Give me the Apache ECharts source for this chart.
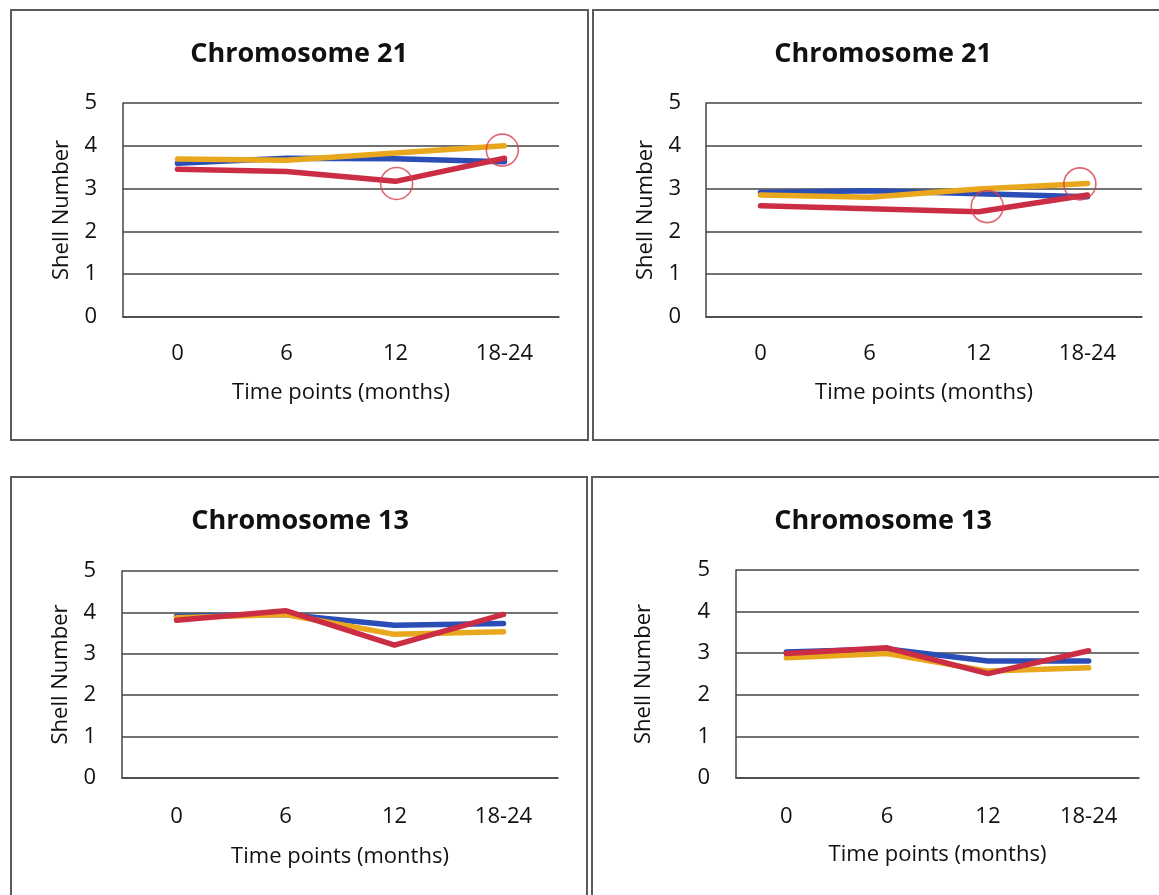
<!DOCTYPE html>
<html>
<head>
<meta charset="utf-8">
<script src="https://cdn.jsdelivr.net/npm/echarts@6/dist/echarts.min.js"></script>
<style>
  html, body { margin: 0; padding: 0; background: #ffffff; }
  #chart { width: 1159px; height: 895px; }
</style>
</head>
<body>
<div id="chart"></div>
<script>
// Time points on the x axis and shell-number ticks on the y axis
const timePoints = ['0', '6', '12', '18-24'];
const shellTicks = [0, 1, 2, 3, 4, 5];

// Chromosome 21, left panel
const chr21aBlue   = [3.59, 3.71, 3.70, 3.63];
const chr21aYellow = [3.69, 3.66, 3.83, 4.00];
const chr21aRed    = [3.45, 3.40, 3.17, 3.71];
// Chromosome 21, right panel
const chr21bBlue   = [2.91, 2.95, 2.88, 2.81];
const chr21bYellow = [2.85, 2.80, 2.99, 3.12];
const chr21bRed    = [2.60, 2.53, 2.46, 2.85];
// Chromosome 13, left panel
const chr13aBlue   = [3.91, 3.95, 3.69, 3.73];
const chr13aYellow = [3.87, 3.95, 3.47, 3.53];
const chr13aRed    = [3.81, 4.04, 3.21, 3.95];
// Chromosome 13, right panel
const chr13bBlue   = [3.03, 3.10, 2.81, 2.81];
const chr13bYellow = [2.89, 2.99, 2.57, 2.65];
const chr13bRed    = [2.99, 3.13, 2.51, 3.06];

// Highlight rings: [position along the time axis (category index), shell number]
const chr21aRings = [[2.01, 3.12], [2.98, 3.90]];
const chr21bRings = [[2.08, 2.58], [2.93, 3.11]];

const panelTitles = ['Chromosome 21', 'Chromosome 21', 'Chromosome 13', 'Chromosome 13'];

const COLORS = { blue: '#2b4db6', yellow: '#e8a71c', red: '#cb2d44', ring: '#d6404f', grid: '#454545' };
const FONT = '"Open Sans", Lato, sans-serif';

const panels = [
  { grid: { left: 123, top: 103, width: 436, height: 214 }, title: [294, 36],
    xMargin: 26, xNameGap: 65, yMargin: 26, yNameGap: 50,
    data: [chr21aBlue, chr21aYellow, chr21aRed], rings: chr21aRings },
  { grid: { left: 706, top: 103, width: 436, height: 214 }, title: [878, 36],
    xMargin: 26, xNameGap: 65, yMargin: 25, yNameGap: 49,
    data: [chr21bBlue, chr21bYellow, chr21bRed], rings: chr21bRings },
  { grid: { left: 122, top: 571, width: 436, height: 207 }, title: [295, 503],
    xMargin: 28, xNameGap: 68, yMargin: 26, yNameGap: 50,
    data: [chr13aBlue, chr13aYellow, chr13aRed], rings: null },
  { grid: { left: 736, top: 570, width: 403, height: 208 }, title: [878, 503],
    xMargin: 28, xNameGap: 66, yMargin: 26, yNameGap: 81,
    data: [chr13bBlue, chr13bYellow, chr13bRed], rings: null }
];

const grid = [], xAxis = [], yAxis = [], series = [], title = [];
let xi = 0;

panels.forEach((p, i) => {
  grid.push(Object.assign({ containLabel: false }, p.grid));
  title.push({
    text: panelTitles[i], left: p.title[0], top: p.title[1], textAlign: 'center',
    textStyle: { fontFamily: FONT, fontWeight: 'bold', fontSize: 27, color: '#111' }
  });
  const catIndex = xi++;
  xAxis.push({
    type: 'category', gridIndex: i, data: timePoints, boundaryGap: true,
    axisLine: { show: true, onZero: false, lineStyle: { color: COLORS.grid, width: 1.5 } },
    axisTick: { show: false },
    axisLabel: { fontFamily: FONT, fontSize: 22, color: '#111', margin: p.xMargin },
    name: 'Time points (months)', nameLocation: 'middle', nameGap: p.xNameGap,
    nameTextStyle: { fontFamily: FONT, fontSize: 22, color: '#111' }
  });
  yAxis.push({
    type: 'value', gridIndex: i, min: shellTicks[0], max: shellTicks[shellTicks.length - 1], interval: 1,
    axisLine: { show: true, onZero: false, lineStyle: { color: COLORS.grid, width: 1.5 } },
    axisTick: { show: false },
    splitLine: { show: true, lineStyle: { color: COLORS.grid, width: 1.5 } },
    axisLabel: { fontFamily: FONT, fontSize: 22, color: '#111', margin: p.yMargin },
    name: 'Shell Number', nameLocation: 'middle', nameGap: p.yNameGap, nameRotate: 90,
    nameTextStyle: { fontFamily: FONT, fontSize: 22, color: '#111' }
  });

  const lineColors = [COLORS.blue, COLORS.yellow, COLORS.red];
  p.data.forEach((values, k) => {
    series.push({
      type: 'line', xAxisIndex: catIndex, yAxisIndex: i, data: values,
      showSymbol: false, symbol: 'none', z: 3 + k,
      lineStyle: { color: lineColors[k], width: 5.5, cap: 'round', join: 'round' },
      animation: false
    });
  });

  if (p.rings) {
    // continuous axis spanning the same band as the categories, for the rings
    const ringAxis = xi++;
    xAxis.push({
      type: 'value', gridIndex: i, min: -0.5, max: 3.5, show: false,
      axisLine: { onZero: false }, splitLine: { show: false }
    });
    series.push({
      type: 'scatter', xAxisIndex: ringAxis, yAxisIndex: i, data: p.rings,
      symbol: 'circle', symbolSize: 32, z: 10, silent: true,
      itemStyle: { color: 'rgba(0,0,0,0)', borderColor: COLORS.ring, borderWidth: 1.6 },
      animation: false
    });
  }
});

// panel frames
const frameStyle = { fill: 'none', stroke: '#5a5a5a', lineWidth: 2 };
const graphic = [
  { type: 'rect', shape: { x: 11, y: 10, width: 577, height: 430 }, style: frameStyle, silent: true },
  { type: 'rect', shape: { x: 593, y: 10, width: 600, height: 430 }, style: frameStyle, silent: true },
  { type: 'rect', shape: { x: 11, y: 477, width: 576, height: 450 }, style: frameStyle, silent: true },
  { type: 'rect', shape: { x: 592, y: 477, width: 600, height: 450 }, style: frameStyle, silent: true }
];

const chart = echarts.init(document.getElementById('chart'), null, { renderer: 'canvas' });
chart.setOption({
  backgroundColor: '#ffffff',
  animation: false,
  title, grid, xAxis, yAxis, series, graphic
});
</script>
</body>
</html>
